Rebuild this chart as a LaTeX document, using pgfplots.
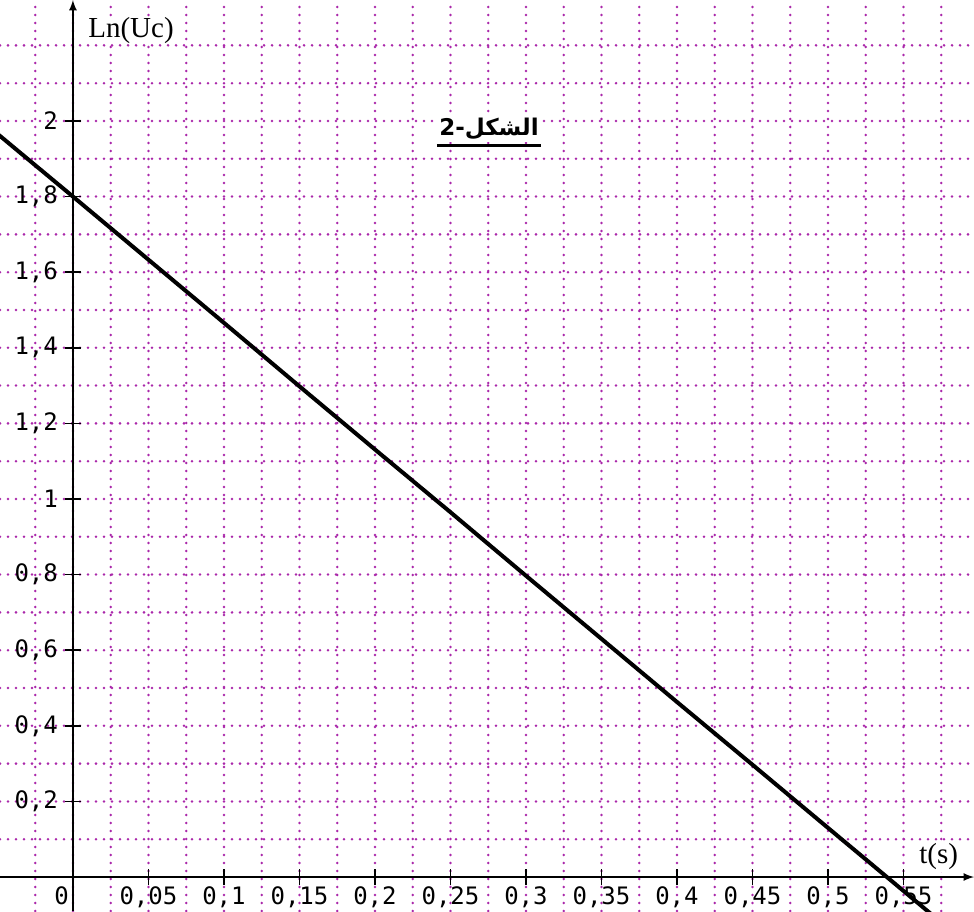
\documentclass[border=0pt]{standalone}
\usepackage{pgfplots}
\pgfplotsset{compat=1.18}
\usepackage{fontspec}
\setmainfont{Liberation Serif}
\newfontfamily\tickfont{DejaVu Sans Mono}
\newfontfamily\arabicfont[Script=Arabic]{DejaVu Sans}
\TeXXeTstate=1
\definecolor{gridpurple}{RGB}{170,40,170}

\begin{document}
\begin{tikzpicture}
\begin{axis}[
  scale only axis, width=487pt, height=455.5pt,
  xmin=-0.0483, xmax=0.5967, ymin=-0.0899, ymax=2.32,
  axis lines=middle,
  hide obscured x ticks=false,
  axis line style={line width=0.8pt, -latex},
  xtick={0,0.05,0.1,0.15,0.2,0.25,0.3,0.35,0.4,0.45,0.5,0.55},
  xticklabels={{\llap{0\hspace{2pt}}},{0,05},{0,1},{0,15},{0,2},{0,25},{0,3},{0,35},{0,4},{0,45},{0,5},{0,55}},
  ytick={0.2,0.4,0.6,0.8,1,1.2,1.4,1.6,1.8,2},
  yticklabels={{0,2},{0,4},{0,6},{0,8},{1},{1,2},{1,4},{1,6},{1,8},{2}},
  minor xtick={-0.025,0.025,0.075,0.125,0.175,0.225,0.275,0.325,0.375,0.425,0.475,0.525,0.575},
  minor ytick={0.1,0.3,0.5,0.7,0.9,1.1,1.3,1.5,1.7,1.9,2.1,2.2},
  grid=both,
  major grid style={gridpurple, line width=1.4pt, dash pattern=on 0pt off 4pt, line cap=round},
  minor grid style={gridpurple, line width=1.4pt, dash pattern=on 0pt off 4pt, line cap=round},
  major tick length=8pt, minor tick length=0pt,
  tick style={black, line width=0.8pt},
  tick align=center,
  xticklabel style={font=\tickfont\fontsize{12}{13}\selectfont, anchor=north, inner sep=0pt, yshift=-0.5pt},
  yticklabel style={font=\tickfont\fontsize{12}{13}\selectfont, anchor=east, xshift=0pt},
  every axis x label/.style={at={(axis description cs:0.9415,0.0593)}, anchor=west, font=\fontsize{14.5}{16}\selectfont, inner sep=1pt, fill=white},
  every axis y label/.style={at={(axis description cs:0.0903,0.967)}, anchor=west, font=\fontsize{14.5}{16}\selectfont, inner sep=0pt, fill=white},
  xlabel={t(s)},
  ylabel={Ln(Uc)},
]
\addplot[black, line width=2pt, line join=round] coordinates {
  (-0.05,1.966) (0,1.8) (0.05,1.633) (0.1,1.466) (0.15,1.298) (0.2,1.131)
  (0.25,0.965) (0.3,0.797) (0.35,0.630) (0.4,0.463) (0.45,0.297)
  (0.5,0.130) (0.539,0) (0.58,-0.137)
};
\node[font=\arabicfont\bfseries\fontsize{11.5}{13}\selectfont, inner sep=1pt, fill=white] (T) at (axis description cs:0.502,0.858) {\beginR الشكل-2\endR};
\draw[line width=1.8pt] ([yshift=-1.5pt]T.south west) -- ([yshift=-1.5pt]T.south east);
\end{axis}
\pgfresetboundingbox
\useasboundingbox (current axis.south west) rectangle (current axis.north east);
\end{tikzpicture}
\end{document}
